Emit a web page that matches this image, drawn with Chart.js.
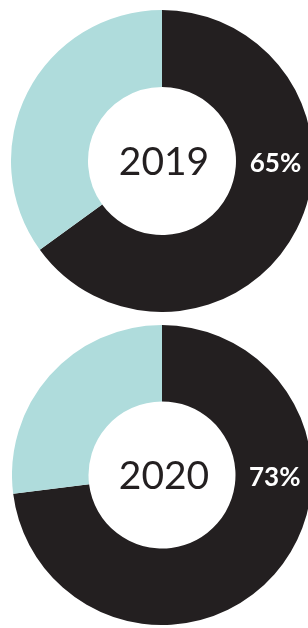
<!DOCTYPE html>
<html>
<head>
<meta charset="utf-8">
<script src="https://cdn.jsdelivr.net/npm/chart.js@4"></script>
<style>
  html, body { margin: 0; padding: 0; background: #ffffff; overflow: hidden; }
  body { width: 308px; height: 628px; position: relative; }
  canvas { position: absolute; }
  #chart2019 { left: 11px; top: 10px; }
  #chart2020 { left: 12px; top: 325px; }
</style>
</head>
<body>
<canvas id="chart2019" width="302" height="302"></canvas>
<canvas id="chart2020" width="300" height="300"></canvas>
<script>
const years = ['2019', '2020'];
const segmentLabels = ['Share', 'Rest'];
const shareValues = [65, 73];
const restValues = [35, 27];

const darkColor = '#231f20';
const lightColor = '#afdcdc';

// draws the year in the hole and the share on the dark ring
const donutText = {
  id: 'donutText',
  afterDraw(chart, args, opts) {
    const arc = chart.getDatasetMeta(0).data[0];
    if (!arc) return;
    const ctx = chart.ctx;
    const cx = arc.x, cy = arc.y;
    const mid = (arc.innerRadius + arc.outerRadius) / 2;
    ctx.save();
    ctx.textAlign = 'center';
    ctx.textBaseline = 'middle';
    ctx.fillStyle = '#231f20';
    ctx.font = '400 39px Lato, "Open Sans", sans-serif';
    ctx.fillText(opts.year, cx + 2, cy + 1);
    ctx.fillStyle = '#ffffff';
    ctx.font = '700 26px Lato, "Open Sans", sans-serif';
    ctx.fillText(opts.share + '%', cx + mid + 1, cy + 3);
    ctx.restore();
  }
};

function makeDonut(id, i) {
  new Chart(document.getElementById(id), {
    type: 'doughnut',
    data: {
      labels: segmentLabels,
      datasets: [{
        data: [shareValues[i], restValues[i]],
        backgroundColor: [darkColor, lightColor],
        borderWidth: 0
      }]
    },
    options: {
      responsive: false,
      animation: false,
      cutout: '49%',
      layout: { padding: 0 },
      plugins: {
        legend: { display: false },
        tooltip: { enabled: false },
        donutText: { year: years[i], share: shareValues[i] }
      }
    },
    plugins: [donutText]
  });
}

makeDonut('chart2019', 0);
makeDonut('chart2020', 1);
</script>
</body>
</html>
